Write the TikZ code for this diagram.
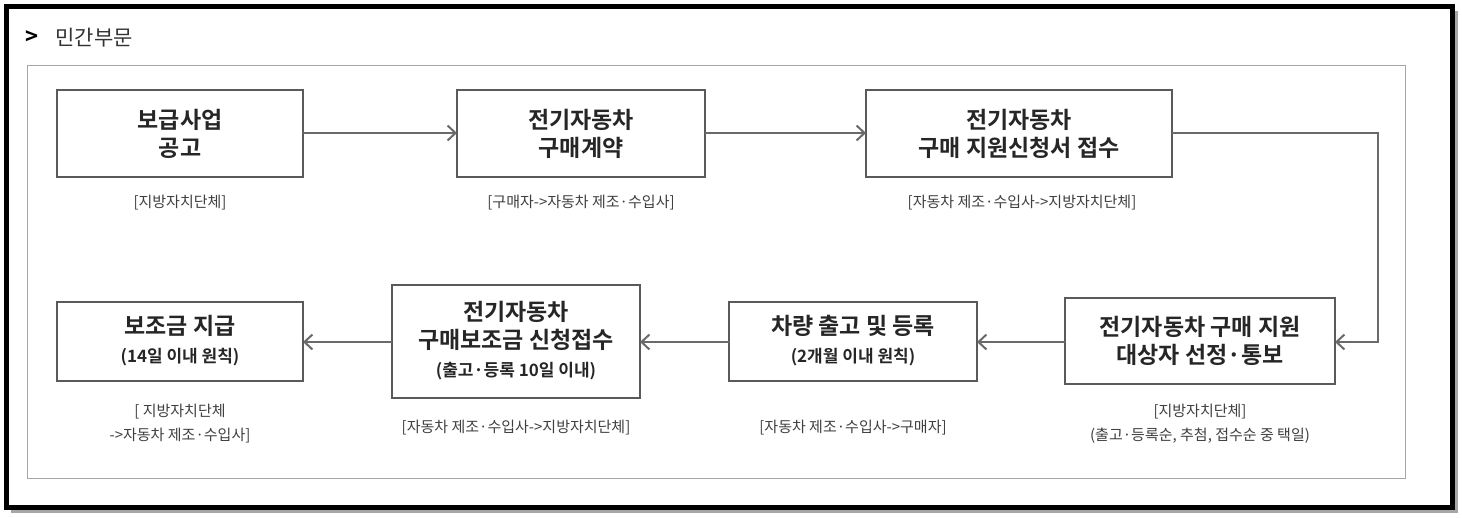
\documentclass[tikz,border=0pt]{standalone}
\usepackage{fontspec}
\setmainfont{Noto Sans CJK KR}
\newfontfamily\kb{Noto Sans CJK KR Bold}
\usetikzlibrary{arrows.meta}
\definecolor{bx}{HTML}{5A5A5A}
\definecolor{ar}{HTML}{6A6A6A}
\tikzset{
 x=1pt,y=-1pt,
 stepbox/.style={draw=bx,line width=2pt,fill=white,inner sep=0pt},
 ttl/.style={font=\kb\fontsize{23}{28}\selectfont,align=center,text=black!85},
 lbl/.style={font=\fontsize{15}{24}\selectfont,align=center,text=black!75},
 conn/.style={draw=ar,line width=2.2pt,-{Straight Barb[length=8pt,width=15pt,line width=2pt]}}
}
\begin{document}
\begin{tikzpicture}
\useasboundingbox (0,0) rectangle (1462,517);
\fill[white] (0,0) rectangle (1462,517);
\fill[black!35] (11,11) rectangle (1458,513);
\draw[black,line width=5pt,fill=white] (6,6) rectangle (1452,507);
\node[anchor=west,font=\kb\fontsize{22}{24}\selectfont] (arr) at (22,38) {>};
\node[anchor=west,font=\fontsize{21}{24}\selectfont,text=black!80] (hdr) at (52,38) {민간부문};
\draw[black!35,line width=1pt] (27,65) rectangle (1405,478);
% boxes
\draw[stepbox] (57,90) rectangle (303,177); \node[ttl] (b1) at (180,133.5) {보급사업\\공고};
\draw[stepbox] (457,90) rectangle (705,177); \node[ttl] (b2) at (581,133.5) {전기자동차\\구매계약};
\draw[stepbox] (866,90) rectangle (1172,177); \node[ttl] (b3) at (1019,133.5) {전기자동차\\구매 지원신청서 접수};
\draw[stepbox] (1065,298) rectangle (1335,384); \node[ttl] (b4) at (1200,341) {전기자동차 구매 지원\\대상자 선정·통보};
\draw[stepbox] (729,302) rectangle (977,381); \node[ttl] (b5) at (853,341) {차량 출고 및 등록\\{\fontsize{17}{24}\selectfont(2개월 이내 원칙)}};
\draw[stepbox] (392,285) rectangle (640,398); \node[ttl] (b6) at (516,341) {전기자동차\\구매보조금 신청접수\\{\fontsize{17}{24}\selectfont(출고·등록 10일 이내)}};
\draw[stepbox] (57,302) rectangle (303,381); \node[ttl] (b7) at (180,341) {보조금 지급\\{\fontsize{17}{24}\selectfont(14일 이내 원칙)}};
\coordinate (r1) at (303,133); \coordinate (l2) at (457,133);
\coordinate (r2) at (705,133); \coordinate (l3) at (866,133);
\coordinate (r3) at (1172,133); \coordinate (r4) at (1335,342);
\coordinate (l4) at (1065,342); \coordinate (r5) at (977,342);
\coordinate (l5) at (729,342); \coordinate (r6) at (640,342);
\coordinate (l6) at (392,342); \coordinate (r7) at (303,342);
\draw[conn] (r1) -- (l2);
\draw[conn] (r2) -- (l3);
\draw[conn] (r3) -- (1378,133) -- (1378,342) -- (r4);
\draw[conn] (l4) -- (r5);
\draw[conn] (l5) -- (r6);
\draw[conn] (l6) -- (r7);
% labels
\node[lbl] (t1) at (180,203) {[지방자치단체]};
\node[lbl] (t2) at (581,203) {[구매자->자동차 제조·수입사]};
\node[lbl] (t3) at (1022,203) {[자동차 제조·수입사->지방자치단체]};
\node[lbl] (t4) at (1200,424) {[지방자치단체]\\(출고·등록순, 추첨, 접수순 중 택일)};
\node[lbl] (t5) at (853,428) {[자동차 제조·수입사->구매자]};
\node[lbl] (t6) at (516,428) {[자동차 제조·수입사->지방자치단체]};
\node[lbl] (t7) at (180,424) {[ 지방자치단체\\->자동차 제조·수입사]};
\end{tikzpicture}
\end{document}
